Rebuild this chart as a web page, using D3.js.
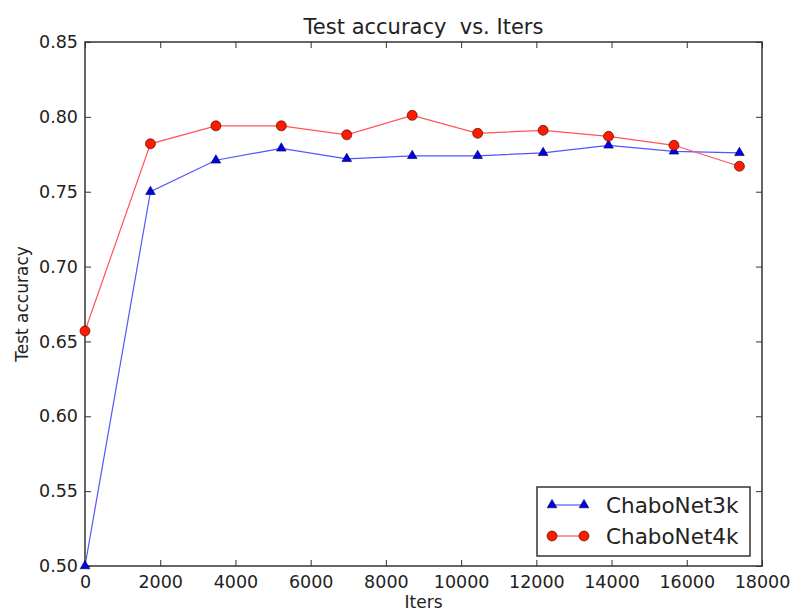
<!DOCTYPE html>
<html>
<head>
<meta charset="utf-8">
<script src="https://cdn.jsdelivr.net/npm/d3@7"></script>
<style>
  body { margin: 0; background: #fff; }
  text { font-family: "DejaVu Sans", sans-serif; fill: #222; }
</style>
</head>
<body>
<div id="graph"></div>
<script>
// data
const iters = [0, 1740, 3480, 5220, 6960, 8700, 10440, 12180, 13920, 15660, 17400]
const net3k = [0.500, 0.750, 0.771, 0.779, 0.772, 0.774, 0.774, 0.776, 0.781, 0.777, 0.776]
const net4k = [0.657, 0.782, 0.794, 0.794, 0.788, 0.801, 0.789, 0.791, 0.787, 0.781, 0.767]
const xTicks = [0, 2000, 4000, 6000, 8000, 10000, 12000, 14000, 16000, 18000]
const yTicks = [0.50, 0.55, 0.60, 0.65, 0.70, 0.75, 0.80, 0.85]
const seriesNames = ["ChaboNet3k", "ChaboNet4k"]

const W = 790, H = 611
const margin = {top: 42, right: 28, bottom: 45, left: 85}
const width = W - margin.left - margin.right
const height = H - margin.top - margin.bottom

const svg = d3.select("#graph")
  .append("svg")
  .attr("width", W)
  .attr("height", H)

const g = svg.append("g")
  .attr("transform", `translate(${margin.left},${margin.top})`)

// scales
const x = d3.scaleLinear().domain([0, 18000]).range([0, width])
const y = d3.scaleLinear().domain([0.50, 0.85]).range([height, 0])

// axes, ticks pointing inwards on all four sides
const tick = 6
g.append("g")
  .attr("transform", `translate(0,${height})`)
  .call(d3.axisBottom(x).tickValues(xTicks).tickSizeInner(-tick).tickSizeOuter(0).tickPadding(10).tickFormat(d3.format("d")))
g.append("g")
  .call(d3.axisTop(x).tickValues(xTicks).tickSizeInner(-tick).tickSizeOuter(0).tickFormat(""))
g.append("g")
  .call(d3.axisLeft(y).tickValues(yTicks).tickSizeInner(-tick).tickSizeOuter(0).tickPadding(7).tickFormat(d3.format(".2f")))
g.append("g")
  .attr("transform", `translate(${width},0)`)
  .call(d3.axisRight(y).tickValues(yTicks).tickSizeInner(-tick).tickSizeOuter(0).tickFormat(""))

g.selectAll(".domain").remove()
g.selectAll(".tick line").attr("stroke", "#333").attr("stroke-width", 1)
g.selectAll(".tick text").style("font-size", "17.5px").style("font-family", "DejaVu Sans").attr("fill", "#222")

// frame
g.append("rect")
  .attr("width", width)
  .attr("height", height)
  .attr("fill", "none")
  .attr("stroke", "#333")
  .attr("stroke-width", 1.5)

// lines
const pts3 = iters.map((d, i) => ({x: d, y: net3k[i]}))
const pts4 = iters.map((d, i) => ({x: d, y: net4k[i]}))
const line = d3.line().x(d => x(d.x)).y(d => y(d.y))

g.append("path").datum(pts3).attr("d", line)
  .attr("fill", "none").attr("stroke", "#5555ff").attr("stroke-width", 1.2)
g.append("path").datum(pts4).attr("d", line)
  .attr("fill", "none").attr("stroke", "#ff5555").attr("stroke-width", 1.2)

const tri = d3.symbol().type(d3.symbolTriangle).size(40)

g.selectAll(".m3").data(pts3).enter()
  .append("path")
  .attr("class", "m3")
  .attr("d", tri)
  .attr("transform", d => `translate(${x(d.x)},${y(d.y)})`)
  .attr("fill", "#0000ee")
  .attr("stroke", "#000033")
  .attr("stroke-width", 0.6)

g.selectAll(".m4").data(pts4).enter()
  .append("circle")
  .attr("class", "m4")
  .attr("cx", d => x(d.x))
  .attr("cy", d => y(d.y))
  .attr("r", 5)
  .attr("fill", "#ff1a00")
  .attr("stroke", "#330000")
  .attr("stroke-width", 0.6)

// title & axis labels
svg.append("text")
  .attr("x", margin.left + width / 2)
  .attr("y", 34)
  .attr("text-anchor", "middle")
  .style("font-size", "21px")
  .style("white-space", "pre")
  .text("Test accuracy  vs. Iters")

svg.append("text")
  .attr("x", margin.left + width / 2)
  .attr("y", 608)
  .attr("text-anchor", "middle")
  .style("font-size", "17px")
  .text("Iters")

svg.append("text")
  .attr("transform", `translate(28,${margin.top + height / 2}) rotate(-90)`)
  .attr("text-anchor", "middle")
  .style("font-size", "17px")
  .text("Test accuracy")

// legend
const legend = svg.append("g").attr("transform", "translate(537,487)")
legend.append("rect")
  .attr("width", 213)
  .attr("height", 69)
  .attr("fill", "#fff")
  .attr("stroke", "#333")
  .attr("stroke-width", 1.5)

const rows = [
  {name: seriesNames[0], color: "#5555ff", mark: "tri"},
  {name: seriesNames[1], color: "#ff5555", mark: "dot"}
]
rows.forEach((r, i) => {
  const ly = 18 + i * 31
  const row = legend.append("g").attr("transform", `translate(0,${ly})`)
  row.append("line")
    .attr("x1", 15).attr("x2", 47)
    .attr("y1", 0).attr("y2", 0)
    .attr("stroke", r.color).attr("stroke-width", 1.2)
  ;[15, 47].forEach(px => {
    if (r.mark === "tri") {
      row.append("path").attr("d", tri)
        .attr("transform", `translate(${px},0)`)
        .attr("fill", "#0000ee").attr("stroke", "#000033").attr("stroke-width", 0.6)
    } else {
      row.append("circle").attr("cx", px).attr("cy", 0).attr("r", 5)
        .attr("fill", "#ff1a00").attr("stroke", "#330000").attr("stroke-width", 0.6)
    }
  })
  row.append("text")
    .attr("x", 69)
    .attr("y", 8)
    .style("font-size", "21.5px")
    .text(r.name)
})
</script>
</body>
</html>
